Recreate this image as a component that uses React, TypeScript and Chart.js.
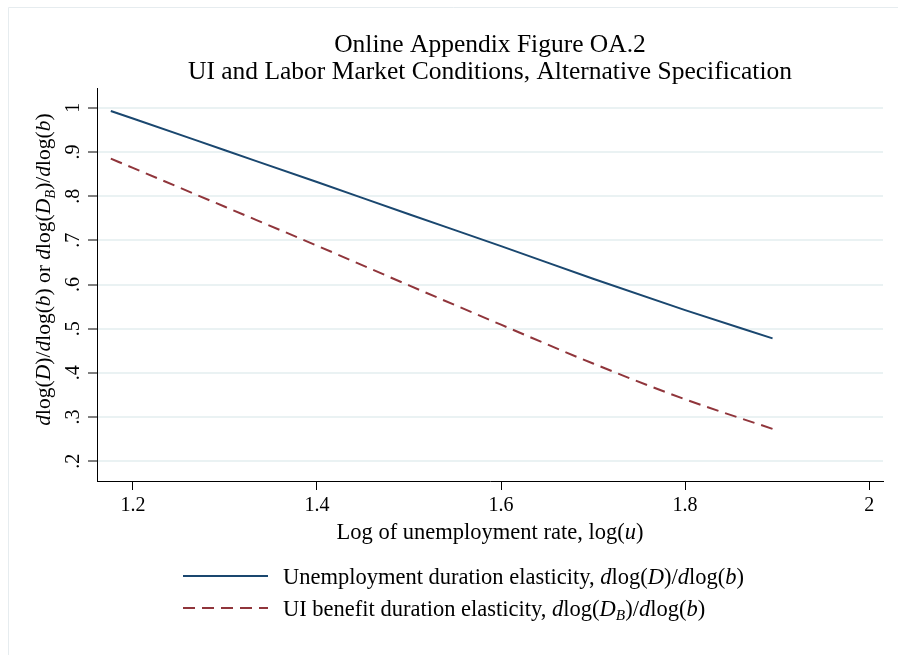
import React, { useEffect, useRef } from "react";
import { Chart, registerables } from "chart.js";

Chart.register(...registerables);

// ---- data ----
const X_VALUES = [1.176, 1.2, 1.3, 1.4, 1.5, 1.6, 1.7, 1.8, 1.895];
const UNEMP_DURATION_ELASTICITY = [0.993, 0.976, 0.904, 0.832, 0.759, 0.687, 0.613, 0.542, 0.478];
const UI_BENEFIT_DURATION_ELASTICITY = [0.885, 0.864, 0.776, 0.688, 0.598, 0.509, 0.421, 0.34, 0.273];
const X_TICKS = [1.2, 1.4, 1.6, 1.8, 2];
const Y_TICKS = [0.2, 0.3, 0.4, 0.5, 0.6, 0.7, 0.8, 0.9, 1];
const TITLE_LINES = ["Online Appendix Figure OA.2", "UI and Labor Market Conditions, Alternative Specification"];

type Seg = { t: string; s?: "n" | "i" | "sub" };

const Y_TITLE: Seg[] = [
  { t: "d", s: "i" }, { t: "log(" }, { t: "D", s: "i" }, { t: ")/" }, { t: "d", s: "i" }, { t: "log(" }, { t: "b", s: "i" }, { t: ") or " },
  { t: "d", s: "i" }, { t: "log(" }, { t: "D", s: "i" }, { t: "B", s: "sub" }, { t: ")/" }, { t: "d", s: "i" }, { t: "log(" }, { t: "b", s: "i" }, { t: ")" },
];
const X_TITLE: Seg[] = [{ t: "Log of unemployment rate, log(" }, { t: "u", s: "i" }, { t: ")" }];
const LEGEND_1: Seg[] = [
  { t: "Unemployment duration elasticity, " }, { t: "d", s: "i" }, { t: "log(" }, { t: "D", s: "i" }, { t: ")/" }, { t: "d", s: "i" }, { t: "log(" }, { t: "b", s: "i" }, { t: ")" },
];
const LEGEND_2: Seg[] = [
  { t: "UI benefit duration elasticity, " }, { t: "d", s: "i" }, { t: "log(" }, { t: "D", s: "i" }, { t: "B", s: "sub" }, { t: ")/" }, { t: "d", s: "i" }, { t: "log(" }, { t: "b", s: "i" }, { t: ")" },
];

const FONT = '"Liberation Serif", "Times New Roman", serif';
const BLUE = "#1a476f";
const RED = "#90353b";
const GRID = "#eaf2f3";
const DASH = [12, 7];

function segFont(s: Seg["s"], size: number) {
  if (s === "i") return `italic ${size}px ${FONT}`;
  if (s === "sub") return `italic ${size * 0.68}px ${FONT}`;
  return `${size}px ${FONT}`;
}

function richWidth(ctx: CanvasRenderingContext2D, segs: Seg[], size: number) {
  let w = 0;
  for (const g of segs) {
    ctx.font = segFont(g.s, size);
    w += ctx.measureText(g.t).width;
  }
  return w;
}

// draws text whose left starts at x (baseline at y)
function richDraw(ctx: CanvasRenderingContext2D, segs: Seg[], size: number, x: number, y: number) {
  ctx.textAlign = "left";
  ctx.textBaseline = "alphabetic";
  let cx = x;
  for (const g of segs) {
    ctx.font = segFont(g.s, size);
    const dy = g.s === "sub" ? size * 0.22 : 0;
    ctx.fillText(g.t, cx, y + dy);
    cx += ctx.measureText(g.t).width;
  }
}

const fmtY = (v: number) => (Math.abs(v - 1) < 1e-9 ? "1" : v.toFixed(1).replace(/^0/, ""));
const fmtX = (v: number) => (Math.abs(v - 2) < 1e-9 ? "2" : v.toFixed(1));

const decorPlugin = {
  id: "decor",
  beforeDraw(chart: any) {
    const ctx: CanvasRenderingContext2D = chart.ctx;
    ctx.save();
    ctx.fillStyle = "#ffffff";
    ctx.fillRect(0, 0, chart.width, chart.height);
    // outer frame (top and left edges visible)
    ctx.strokeStyle = "#e6ecef";
    ctx.lineWidth = 1;
    ctx.beginPath();
    ctx.moveTo(8.5, chart.height);
    ctx.lineTo(8.5, 7.5);
    ctx.lineTo(chart.width, 7.5);
    ctx.stroke();
    ctx.restore();
  },
  afterDraw(chart: any) {
    const ctx: CanvasRenderingContext2D = chart.ctx;
    const area = chart.chartArea;
    const ys = chart.scales.y;
    const cxPlot = (area.left + area.right) / 2;
    ctx.save();
    ctx.fillStyle = "#000";
    // title
    ctx.font = `25.5px ${FONT}`;
    ctx.textAlign = "center";
    ctx.textBaseline = "alphabetic";
    ctx.fillText(TITLE_LINES[0], cxPlot, 52);
    ctx.fillText(TITLE_LINES[1], cxPlot, 79);

    // y tick labels (rotated)
    ctx.font = `20px ${FONT}`;
    for (const v of Y_TICKS) {
      const py = ys.getPixelForValue(v);
      ctx.save();
      ctx.translate(79, py);
      ctx.rotate(-Math.PI / 2);
      ctx.textAlign = "center";
      ctx.textBaseline = "alphabetic";
      ctx.fillText(fmtY(v), 0, 0);
      ctx.restore();
    }

    // y title
    const ySize = 21.5;
    const yw = richWidth(ctx, Y_TITLE, ySize);
    const yCenter = (area.top + area.bottom) / 2 - 15;
    ctx.save();
    ctx.translate(50, yCenter);
    ctx.rotate(-Math.PI / 2);
    richDraw(ctx, Y_TITLE, ySize, -yw / 2, 0);
    ctx.restore();

    // x title
    const xSize = 22.5;
    const xw = richWidth(ctx, X_TITLE, xSize);
    richDraw(ctx, X_TITLE, xSize, cxPlot - xw / 2, 539);

    // legend
    const lgSize = 22.5;
    const lx0 = 183, lx1 = 268, tx = 283;
    const rows = [
      { segs: LEGEND_1, color: BLUE, dash: [] as number[], y: 576 },
      { segs: LEGEND_2, color: RED, dash: DASH, y: 608 },
    ];
    for (const r of rows) {
      ctx.strokeStyle = r.color;
      ctx.lineWidth = 2;
      ctx.setLineDash(r.dash);
      ctx.beginPath();
      ctx.moveTo(lx0, r.y);
      ctx.lineTo(lx1, r.y);
      ctx.stroke();
      ctx.setLineDash([]);
      ctx.fillStyle = "#000";
      richDraw(ctx, r.segs, lgSize, tx, r.y + 7.5);
    }
    ctx.restore();
  },
};

export default function App() {
  const ref = useRef<HTMLCanvasElement | null>(null);

  useEffect(() => {
    const canvas = ref.current;
    if (!canvas) return;
    const chart = new Chart(canvas, {
      type: "line",
      data: {
        datasets: [
          {
            label: "Unemployment duration elasticity, dlog(D)/dlog(b)",
            data: X_VALUES.map((x, i) => ({ x, y: UNEMP_DURATION_ELASTICITY[i] })),
            borderColor: BLUE,
            borderWidth: 2,
            pointRadius: 0,
            fill: false,
            cubicInterpolationMode: "monotone",
          },
          {
            label: "UI benefit duration elasticity, dlog(D_B)/dlog(b)",
            data: X_VALUES.map((x, i) => ({ x, y: UI_BENEFIT_DURATION_ELASTICITY[i] })),
            borderColor: RED,
            borderWidth: 2,
            borderDash: DASH,
            pointRadius: 0,
            fill: false,
            cubicInterpolationMode: "monotone",
          },
        ],
      },
      options: {
        responsive: false,
        animation: false,
        events: [],
        layout: { padding: { left: 8, right: 15, top: 88, bottom: 134 } },
        plugins: {
          legend: { display: false },
          title: { display: false },
          tooltip: { enabled: false },
        },
        scales: {
          x: {
            type: "linear",
            min: 1.161,
            max: 2.015,
            afterBuildTicks: (s: any) => {
              s.ticks = X_TICKS.map((v) => ({ value: v }));
            },
            afterFit: (s: any) => {
              s.height = 40;
            },
            ticks: {
              callback: (v: any) => fmtX(Number(v)),
              font: { family: FONT, size: 20 },
              color: "#000",
              padding: 4,
              maxRotation: 0,
              minRotation: 0,
              autoSkip: false,
            },
            grid: { display: true, color: "rgba(0,0,0,0)", tickColor: "#000", tickLength: 9, tickWidth: 1, drawOnChartArea: false },
            border: { display: true, color: "#000", width: 1 },
          },
          y: {
            type: "linear",
            min: 0.155,
            max: 1.045,
            afterBuildTicks: (s: any) => {
              s.ticks = Y_TICKS.map((v) => ({ value: v }));
            },
            afterFit: (s: any) => {
              s.width = 89;
            },
            ticks: { display: false },
            grid: { display: true, color: GRID, lineWidth: 2, tickColor: "#000", tickLength: 9, tickWidth: 1 },
            border: { display: true, color: "#000", width: 1 },
          },
        },
      },
      plugins: [decorPlugin],
    } as any);
    return () => chart.destroy();
  }, []);

  return (
    <div style={{ position: "fixed", left: 0, top: 0, width: 898, height: 655, background: "#fff" }}>
      <canvas ref={ref} width={898} height={655} style={{ display: "block", width: 898, height: 655 }} />
    </div>
  );
}
